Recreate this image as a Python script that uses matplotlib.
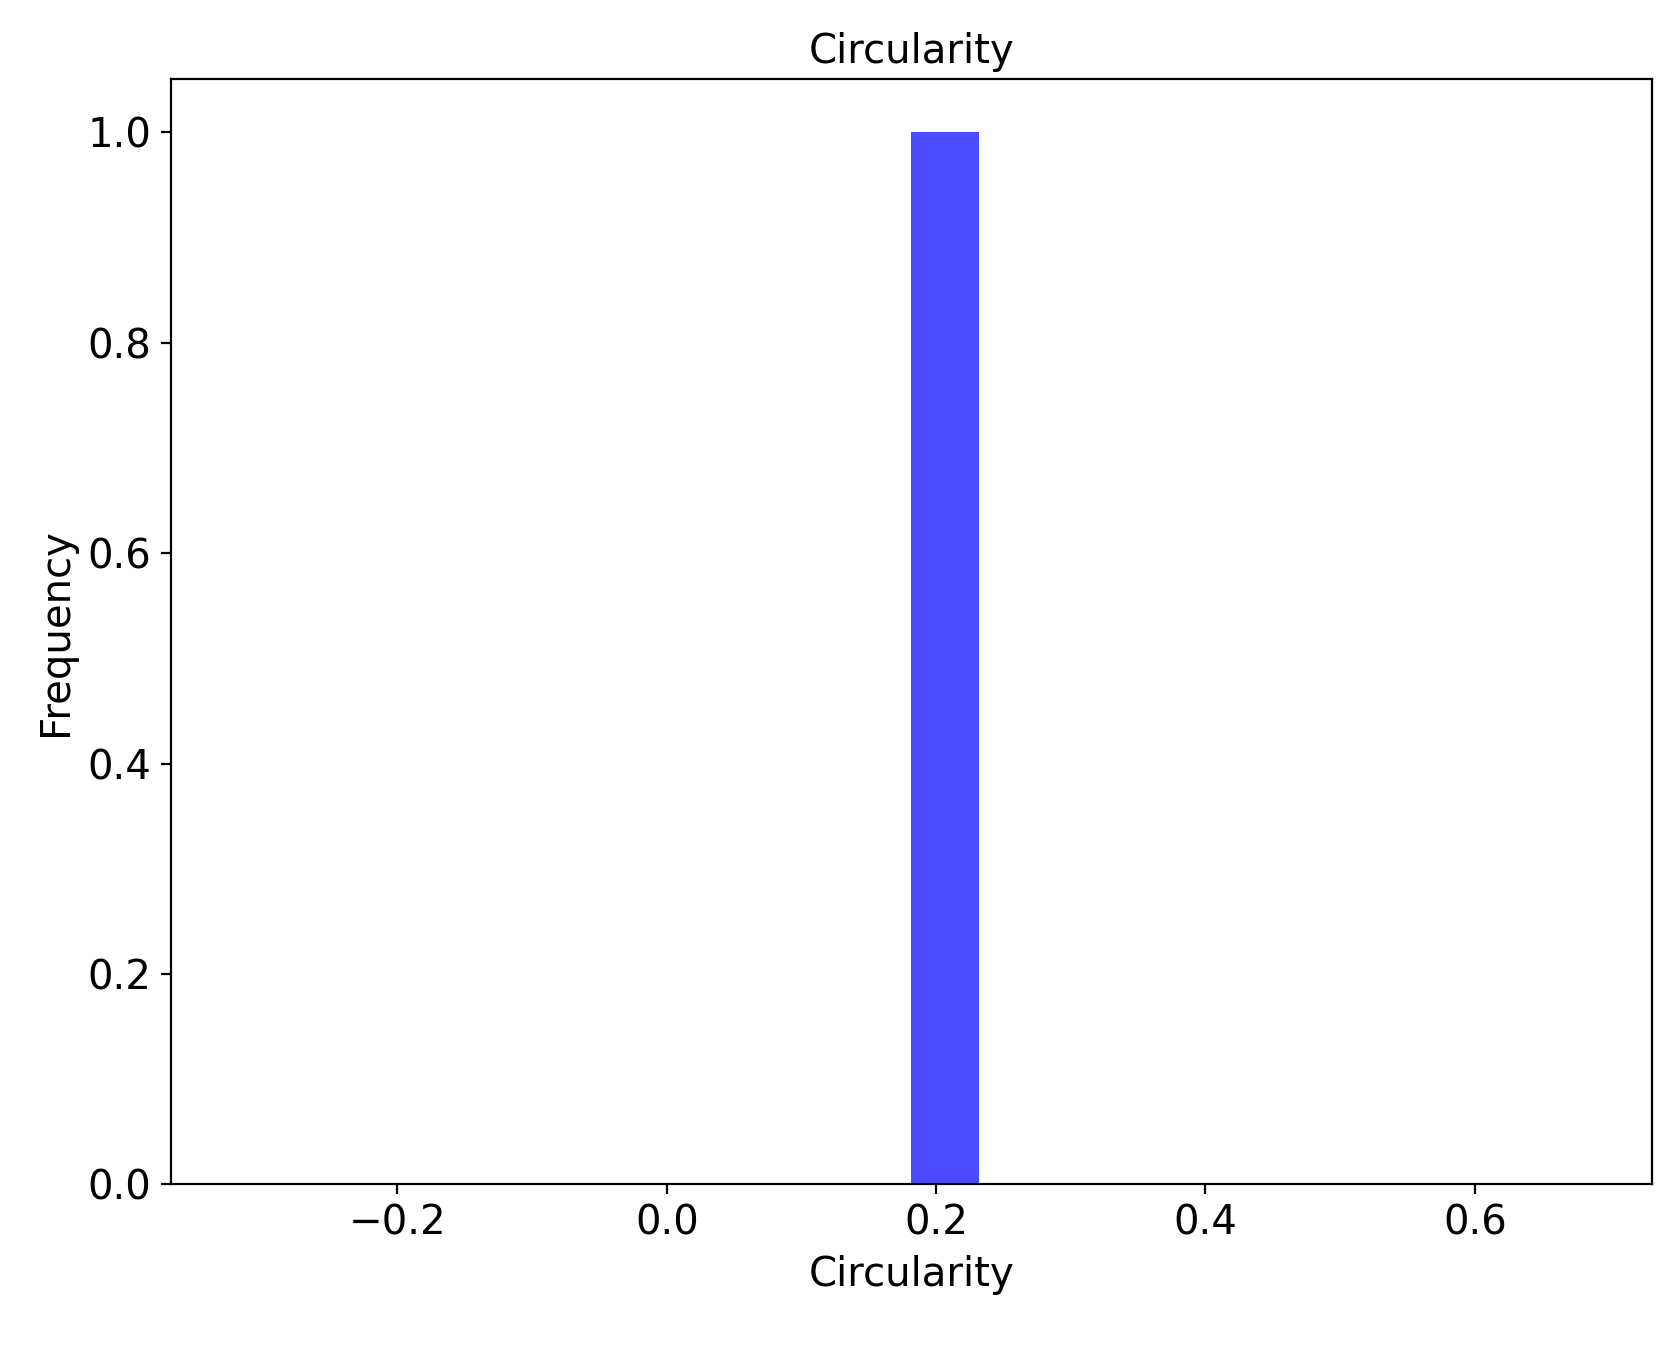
import matplotlib
matplotlib.use("Agg")
import matplotlib.pyplot as plt

values = [0.1815]
n_bins = 20

fig = plt.figure(figsize=(8.36, 6.73), dpi=200)
ax = fig.add_axes([0.102, 0.120, 0.886, 0.821])
ax.hist(values, bins=n_bins, color='blue', alpha=0.7)
ax.set_title('Circularity', fontsize=14.5)
ax.set_xlabel('Circularity', fontsize=14.5)
ax.set_ylabel('Frequency', fontsize=14.5)
ax.tick_params(labelsize=14.5)
fig.savefig('out.png', dpi=200)
